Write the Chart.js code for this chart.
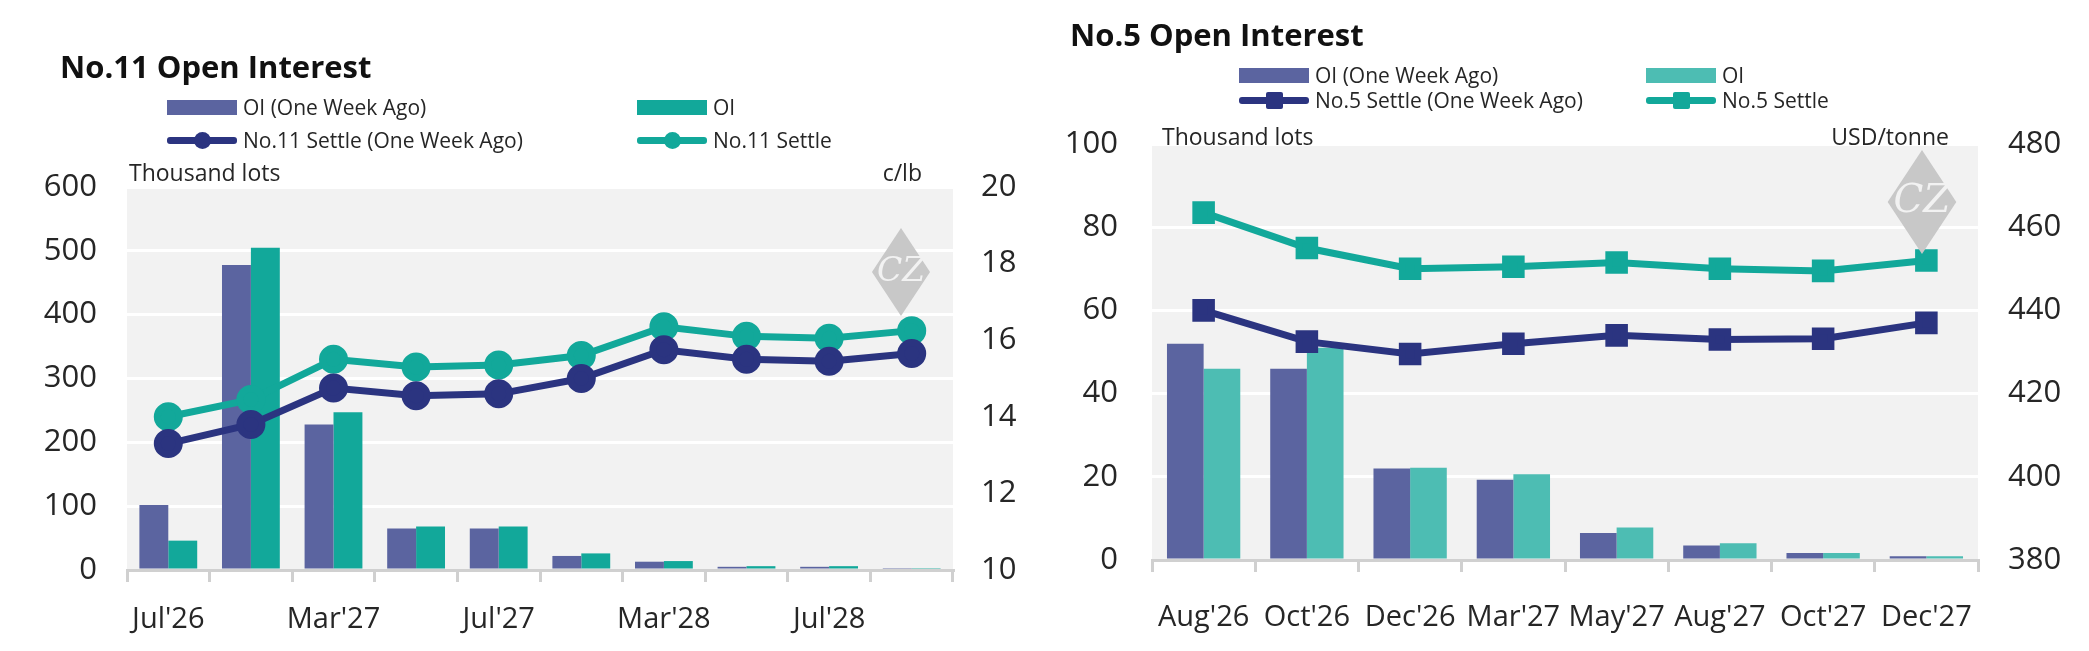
<!DOCTYPE html>
<html><head><meta charset="utf-8">
<script src="https://cdn.jsdelivr.net/npm/chart.js@4"></script>
<style>
body{margin:0;background:#fff;font-family:"Open Sans",sans-serif;color:#262626}
#wrap{position:relative;width:2089px;height:651px;overflow:hidden}
canvas{position:absolute;top:0}
.t{position:absolute;white-space:nowrap}
.title{font-weight:bold;font-size:31px;color:#111}
.lg{font-size:21px;color:#262626;display:flex;align-items:center}
.unit{font-size:23px;color:#262626}
.sw{display:inline-block;width:70px;height:15px;margin-right:6px}
.ln{display:inline-block;width:70px;height:7px;margin-right:6px;position:relative;border-radius:3px}
.ln i{position:absolute;left:27px;top:-5px;width:17px;height:17px;border-radius:50%}
.ln.sq i{border-radius:2px}
</style></head><body>
<div id="wrap">
<canvas id="c1" width="1045" height="651" style="left:0;width:1045px;height:651px"></canvas>
<canvas id="c2" width="1044" height="651" style="left:1045px;width:1044px;height:651px"></canvas>

<div class="t title" style="left:60px;top:45px">No.11 Open Interest</div>
<div class="t lg" style="left:167px;top:93px"><span class="sw" style="background:#5b64a0"></span>OI (One Week Ago)</div>
<div class="t lg" style="left:637px;top:93px"><span class="sw" style="background:#12a89a"></span>OI</div>
<div class="t lg" style="left:167px;top:126px"><span class="ln" style="background:#2b3480"><i style="background:#2b3480"></i></span>No.11 Settle (One Week Ago)</div>
<div class="t lg" style="left:637px;top:126px"><span class="ln" style="background:#12a89a"><i style="background:#12a89a"></i></span>No.11 Settle</div>
<div class="t unit" style="left:129px;top:156px">Thousand lots</div>
<div class="t unit" style="right:1167px;top:156px">c/lb</div>

<div class="t title" style="left:1070px;top:13px">No.5 Open Interest</div>
<div class="t lg" style="left:1239px;top:61px"><span class="sw" style="background:#5b64a0"></span>OI (One Week Ago)</div>
<div class="t lg" style="left:1646px;top:61px"><span class="sw" style="background:#4dbdb3"></span>OI</div>
<div class="t lg" style="left:1239px;top:86px"><span class="ln sq" style="background:#2b3480"><i style="background:#2b3480"></i></span>No.5 Settle (One Week Ago)</div>
<div class="t lg" style="left:1646px;top:86px"><span class="ln sq" style="background:#12a89a"><i style="background:#12a89a"></i></span>No.5 Settle</div>
<div class="t unit" style="left:1162px;top:120px">Thousand lots</div>
<div class="t unit" style="right:140px;top:120px">USD/tonne</div>
</div>
<script>
// No.11
const cats11 = ["Jul'26","Oct'26","Mar'27","May'27","Jul'27","Oct'27","Mar'28","May'28","Jul'28","Oct'28"];
const oiPrev11 = [102, 478, 228, 65, 65, 22, 13, 5, 5, 3];
const oi11 = [46, 505, 247, 68, 68, 26, 14, 6, 6, 3];
const settlePrev11 = [13.3, 13.8, 14.75, 14.55, 14.6, 15.0, 15.75, 15.5, 15.45, 15.65];
const settle11 = [14.0, 14.45, 15.5, 15.3, 15.35, 15.6, 16.35, 16.1, 16.05, 16.25];
// No.5
const cats5 = ["Aug'26","Oct'26","Dec'26","Mar'27","May'27","Aug'27","Oct'27","Dec'27"];
const oiPrev5 = [52, 46, 22, 19.3, 6.5, 3.5, 1.7, 0.9];
const oi5 = [46, 51, 22.2, 20.6, 7.8, 4, 1.7, 0.9];
const settlePrev5 = [440, 432.5, 429.5, 432, 434, 433, 433.2, 437];
const settle5 = [463.5, 455, 450, 450.5, 451.5, 450, 449.5, 452];

const NAVY='#2b3480', BARP='#5b64a0', TEAL='#12a89a';
const bg = {id:'bg',
  beforeDraw(c){const a=c.chartArea,x=c.ctx;x.save();x.fillStyle='#f2f2f2';x.fillRect(a.left,a.top,a.right-a.left,a.bottom-a.top);x.restore();},
  afterDatasetsDraw(c,args,o){const a=c.chartArea,x=c.ctx,cx=a.right-o.dx,cy=a.top+o.dy,h=o.h;
    x.save();x.fillStyle='#c8c8c8';x.beginPath();x.moveTo(cx,cy-h);x.lineTo(cx+h*0.66,cy);x.lineTo(cx,cy+h);x.lineTo(cx-h*0.66,cy);x.closePath();x.fill();
    x.fillStyle='#f2f2f2';x.font='italic '+Math.round(h*0.75)+'px "DejaVu Serif"';x.textAlign='center';x.textBaseline='middle';x.fillText('CZ',cx,cy);x.restore();}
};
Chart.defaults.font.family='"Open Sans", sans-serif';
Chart.defaults.color='#404040';

function make(id, cats, bp, b, lp, l, bColor, cfg){
  new Chart(document.getElementById(id),{
    type:'bar',
    data:{labels:cats,datasets:[
      {type:'line',data:lp,yAxisID:'y1',borderColor:NAVY,backgroundColor:NAVY,borderWidth:7,pointStyle:cfg.ps,pointRadius:cfg.pr,order:0},
      {type:'line',data:l,yAxisID:'y1',borderColor:TEAL,backgroundColor:TEAL,borderWidth:7,pointStyle:cfg.ps,pointRadius:cfg.pr,order:0},
      {data:bp,backgroundColor:BARP,categoryPercentage:cfg.cp,barPercentage:1,order:1},
      {data:b,backgroundColor:bColor,categoryPercentage:cfg.cp,barPercentage:1,order:1}
    ]},
    options:{responsive:false,animation:false,
      layout:{padding:{top:cfg.top,left:0,right:0,bottom:0}},
      plugins:{legend:{display:false},tooltip:{enabled:false},bg:cfg.wm},
      scales:{
        x:{grid:{offset:true,drawOnChartArea:false,tickLength:12,color:'#d0d0d0',lineWidth:3},
           border:{color:'#d0d0d0',width:3},
           ticks:{autoSkip:false,maxRotation:0,padding:cfg.xpad,font:{size:29},color:'#262626',
             callback:(v,i)=>cfg.skip&&i%2?'':cats[i]},
           afterFit:s=>{s.height=cfg.xh;}},
        y:{min:cfg.ymin,max:cfg.ymax,ticks:{stepSize:cfg.ystep,padding:cfg.lpad,font:{size:31},color:'#262626'},
           grid:{color:'#ffffff',lineWidth:3,drawTicks:false},border:{display:false},
           afterFit:s=>{s.width=cfg.lw;}},
        y1:{position:'right',min:cfg.rmin,max:cfg.rmax,ticks:{stepSize:cfg.rstep,padding:cfg.rpad,font:{size:31},color:'#262626'},
           grid:{display:false,drawTicks:false},border:{display:false},
           afterFit:s=>{s.width=cfg.rw;}}
      }},
    plugins:[bg]
  });
}
make('c1',cats11,oiPrev11,oi11,settlePrev11,settle11,TEAL,
  {ps:'circle',pr:11,cp:0.7,top:187,xh:81,xpad:20,skip:true,ymin:0,ymax:600,ystep:100,lpad:30,lw:127,
   rmin:10,rmax:20,rstep:2,rpad:28,rw:92,wm:{dx:52,dy:85,h:44}});
make('c2',cats5,oiPrev5,oi5,settlePrev5,settle5,'#4dbdb3',
  {ps:'rect',pr:11,cp:0.71,top:144,xh:91,xpad:28,skip:false,ymin:0,ymax:100,ystep:20,lpad:34,lw:107,
   rmin:380,rmax:480,rstep:20,rpad:30,rw:111,wm:{dx:56,dy:58,h:52}});
</script>
</body></html>
